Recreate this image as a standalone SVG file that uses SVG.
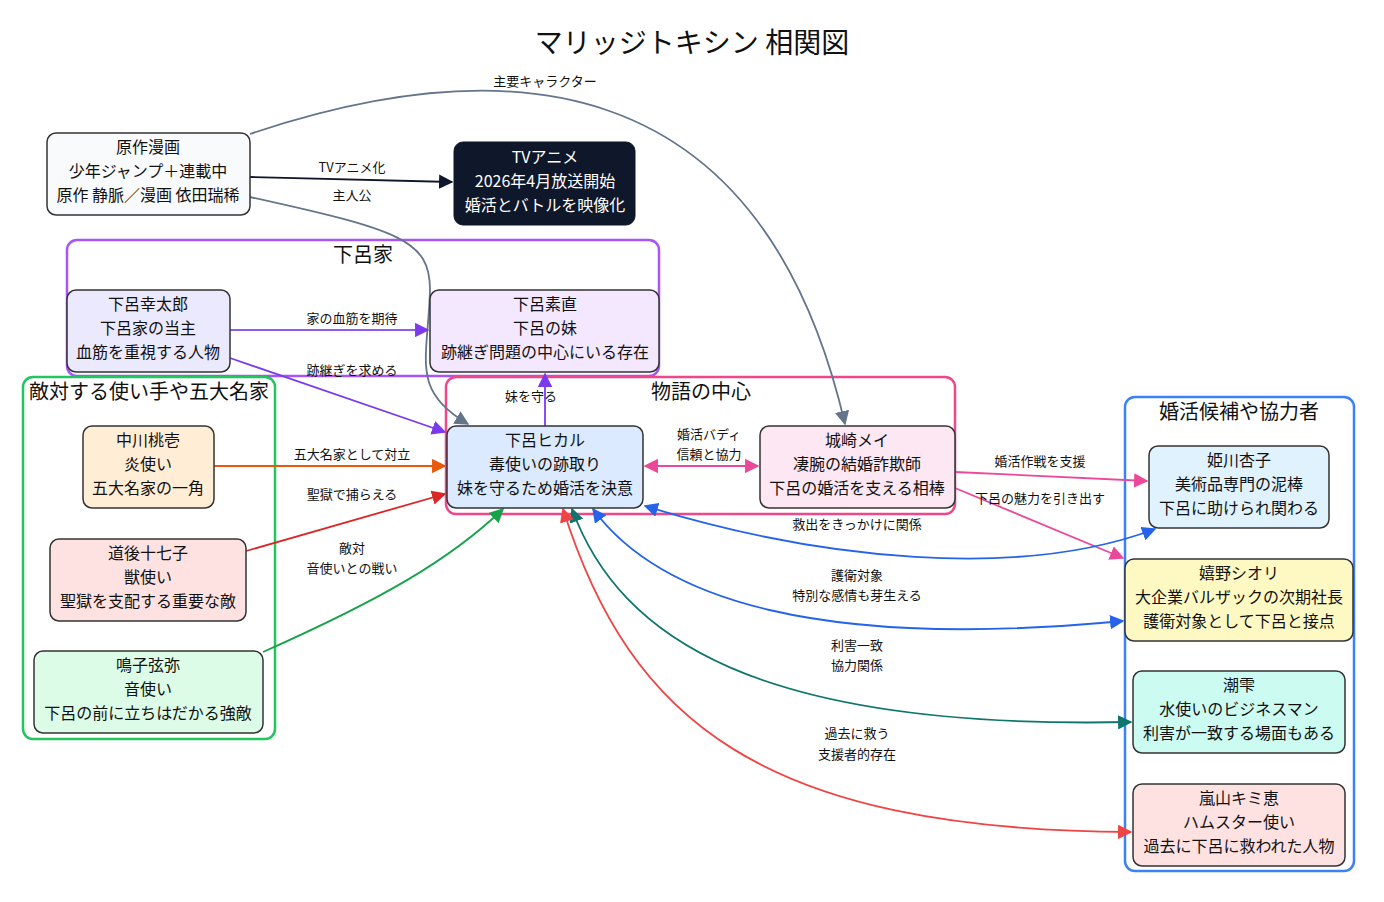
<svg xmlns="http://www.w3.org/2000/svg" width="1384" height="902" viewBox="0 0 1384 902">
<style>
text{font-family:"Noto Sans CJK JP","Noto Sans",sans-serif;fill:#111;text-anchor:middle}
.n{font-size:16px}
.e{font-size:13px}
.g{font-size:20px}
.t{font-size:28px}
.box{stroke:#333;stroke-width:1.5}
.grp{fill:none;stroke-width:2.5}
.c{fill:none;stroke-width:1.8}
</style>
<defs>
<marker id="aS" viewBox="0 0 10 10" refX="9" refY="5" markerWidth="8" markerHeight="8" orient="auto-start-reverse"><path d="M0,0L10,5L0,10z" fill="#64748b"/></marker>
<marker id="aK" viewBox="0 0 10 10" refX="9" refY="5" markerWidth="8" markerHeight="8" orient="auto-start-reverse"><path d="M0,0L10,5L0,10z" fill="#0f172a"/></marker>
<marker id="aP" viewBox="0 0 10 10" refX="9" refY="5" markerWidth="8" markerHeight="8" orient="auto-start-reverse"><path d="M0,0L10,5L0,10z" fill="#7c3aed"/></marker>
<marker id="aO" viewBox="0 0 10 10" refX="9" refY="5" markerWidth="8" markerHeight="8" orient="auto-start-reverse"><path d="M0,0L10,5L0,10z" fill="#ea580c"/></marker>
<marker id="aR" viewBox="0 0 10 10" refX="9" refY="5" markerWidth="8" markerHeight="8" orient="auto-start-reverse"><path d="M0,0L10,5L0,10z" fill="#dc2626"/></marker>
<marker id="aG" viewBox="0 0 10 10" refX="9" refY="5" markerWidth="8" markerHeight="8" orient="auto-start-reverse"><path d="M0,0L10,5L0,10z" fill="#16a34a"/></marker>
<marker id="aM" viewBox="0 0 10 10" refX="9" refY="5" markerWidth="8" markerHeight="8" orient="auto-start-reverse"><path d="M0,0L10,5L0,10z" fill="#ec4899"/></marker>
<marker id="aB" viewBox="0 0 10 10" refX="9" refY="5" markerWidth="8" markerHeight="8" orient="auto-start-reverse"><path d="M0,0L10,5L0,10z" fill="#2563eb"/></marker>
<marker id="aT" viewBox="0 0 10 10" refX="9" refY="5" markerWidth="8" markerHeight="8" orient="auto-start-reverse"><path d="M0,0L10,5L0,10z" fill="#0f766e"/></marker>
<marker id="aL" viewBox="0 0 10 10" refX="9" refY="5" markerWidth="8" markerHeight="8" orient="auto-start-reverse"><path d="M0,0L10,5L0,10z" fill="#ef4444"/></marker>
</defs>
<rect width="1384" height="902" fill="#fff"/>
<text class="t" x="692" y="53">マリッジトキシン 相関図</text>

<g id="groups">
<rect class="grp" x="67" y="240" width="592" height="136" rx="10" stroke="#a855f7"/>
<text class="g" x="363" y="262">下呂家</text>
<rect class="grp" x="23" y="377" width="252" height="362" rx="10" stroke="#22c55e"/>
<text class="g" x="149" y="399">敵対する使い手や五大名家</text>
<rect class="grp" x="446" y="377" width="509" height="137" rx="10" stroke="#f0468a"/>
<text class="g" x="701" y="399">物語の中心</text>
<rect class="grp" x="1125" y="397" width="229" height="474" rx="10" stroke="#3b82f6"/>
<text class="g" x="1239" y="419">婚活候補や協力者</text>
</g>

<g id="connectors">
<path class="c" stroke="#64748b" d="M250,134 C500,50 760,60 845,424" marker-end="url(#aS)"/>
<text class="e" x="545" y="86">主要キャラクター</text>
<path class="c" stroke="#0f172a" d="M250,177 L452,182" marker-end="url(#aK)"/>
<text class="e" x="352" y="172">TVアニメ化</text>
<path class="c" stroke="#64748b" d="M250,197 C400,230 430,240 430,290 C428,360 410,390 468,424" marker-end="url(#aS)"/>
<text class="e" x="352" y="200">主人公</text>
<path class="c" stroke="#8b5cf6" d="M230,330 L428,330" marker-end="url(#aP)"/>
<text class="e" x="352" y="323">家の血筋を期待</text>
<path class="c" stroke="#7c3aed" d="M230,358 L445,432" marker-end="url(#aP)"/>
<text class="e" x="352" y="375">跡継ぎを求める</text>
<path class="c" stroke="#7c3aed" d="M545,426 L545,374" marker-end="url(#aP)"/>
<text class="e" x="531" y="401">妹を守る</text>
<path class="c" stroke="#ea580c" d="M214,466 L445,466" marker-end="url(#aO)"/>
<text class="e" x="352" y="459">五大名家として対立</text>
<path class="c" stroke="#dc2626" d="M246,551 L445,494" marker-end="url(#aR)"/>
<text class="e" x="352" y="499">聖獄で捕らえる</text>
<path class="c" stroke="#16a34a" d="M263,652 C380,600 450,560 503,509" marker-end="url(#aG)"/>
<text class="e" x="352" y="553">敵対</text>
<text class="e" x="352" y="573">音使いとの戦い</text>
<path class="c" stroke="#ec4899" d="M645,466 L758,466" marker-start="url(#aM)" marker-end="url(#aM)"/>
<text class="e" x="709" y="439">婚活バディ</text>
<text class="e" x="709" y="459">信頼と協力</text>
<path class="c" stroke="#ec4899" d="M955,472 L1147,481" marker-end="url(#aM)"/>
<text class="e" x="1040" y="466">婚活作戦を支援</text>
<path class="c" stroke="#ec4899" d="M955,488 L1123,558" marker-end="url(#aM)"/>
<text class="e" x="1040" y="503">下呂の魅力を引き出す</text>
<path class="c" stroke="#2563eb" d="M1155,529 C1020,580 820,560 645,506" marker-start="url(#aB)" marker-end="url(#aB)"/>
<text class="e" x="857" y="529">救出をきっかけに関係</text>
<path class="c" stroke="#2563eb" d="M1123,621 C820,650 660,600 593,509" marker-start="url(#aB)" marker-end="url(#aB)"/>
<text class="e" x="857" y="580">護衛対象</text>
<text class="e" x="857" y="600">特別な感情も芽生える</text>
<path class="c" stroke="#0f766e" d="M1131,722 C760,730 620,640 572,509" marker-start="url(#aT)" marker-end="url(#aT)"/>
<text class="e" x="857" y="650">利害一致</text>
<text class="e" x="857" y="670">協力関係</text>
<path class="c" stroke="#ef4444" d="M1131,832 C760,830 630,720 563,509" marker-start="url(#aL)" marker-end="url(#aL)"/>
<text class="e" x="857" y="738">過去に救う</text>
<text class="e" x="857" y="759">支援者的存在</text>
</g>

<g id="n-gensaku"><rect class="box" x="47" y="133" width="203" height="82" rx="9" fill="#f8fafc"/>
<text class="n" x="148" y="153">原作漫画</text><text class="n" x="148" y="177">少年ジャンプ＋連載中</text><text class="n" x="148" y="201">原作 静脈／漫画 依田瑞稀</text></g>
<g id="n-anime"><rect x="454" y="142" width="181" height="83" rx="9" fill="#0f172a" stroke="#0f172a"/>
<text class="n" x="545" y="163" style="fill:#fff">TVアニメ</text><text class="n" x="545" y="187" style="fill:#fff">2026年4月放送開始</text><text class="n" x="545" y="211" style="fill:#fff">婚活とバトルを映像化</text></g>
<g id="n-kotaro"><rect class="box" x="67" y="290" width="163" height="82" rx="9" fill="#ebe9fe"/>
<text class="n" x="148" y="310">下呂幸太郎</text><text class="n" x="148" y="334">下呂家の当主</text><text class="n" x="148" y="358">血筋を重視する人物</text></g>
<g id="n-sunao"><rect class="box" x="430" y="290" width="229" height="82" rx="9" fill="#f3e8ff"/>
<text class="n" x="545" y="310">下呂素直</text><text class="n" x="545" y="334">下呂の妹</text><text class="n" x="545" y="358">跡継ぎ問題の中心にいる存在</text></g>
<g id="n-nakagawa"><rect class="box" x="83" y="426" width="131" height="82" rx="9" fill="#ffedd5"/>
<text class="n" x="148" y="446">中川桃壱</text><text class="n" x="148" y="470">炎使い</text><text class="n" x="148" y="494">五大名家の一角</text></g>
<g id="n-dogo"><rect class="box" x="50" y="539" width="196" height="82" rx="9" fill="#fee2e2"/>
<text class="n" x="148" y="559">道後十七子</text><text class="n" x="148" y="583">獣使い</text><text class="n" x="148" y="607">聖獄を支配する重要な敵</text></g>
<g id="n-naruko"><rect class="box" x="34" y="651" width="229" height="82" rx="9" fill="#dcfce7"/>
<text class="n" x="148" y="671">鳴子弦弥</text><text class="n" x="148" y="695">音使い</text><text class="n" x="148" y="719">下呂の前に立ちはだかる強敵</text></g>
<g id="n-hikaru"><rect class="box" x="447" y="426" width="196" height="82" rx="9" fill="#dbeafe"/>
<text class="n" x="545" y="446">下呂ヒカル</text><text class="n" x="545" y="470">毒使いの跡取り</text><text class="n" x="545" y="494">妹を守るため婚活を決意</text></g>
<g id="n-mei"><rect class="box" x="760" y="426" width="195" height="82" rx="9" fill="#fce7f3"/>
<text class="n" x="857" y="446">城崎メイ</text><text class="n" x="857" y="470">凄腕の結婚詐欺師</text><text class="n" x="857" y="494">下呂の婚活を支える相棒</text></g>
<g id="n-himekawa"><rect class="box" x="1149" y="446" width="180" height="82" rx="9" fill="#e0f2fe"/>
<text class="n" x="1239" y="466">姫川杏子</text><text class="n" x="1239" y="490">美術品専門の泥棒</text><text class="n" x="1239" y="514">下呂に助けられ関わる</text></g>
<g id="n-ureshino"><rect class="box" x="1125" y="559" width="228" height="82" rx="9" fill="#fef9c3"/>
<text class="n" x="1239" y="579">嬉野シオリ</text><text class="n" x="1239" y="603">大企業バルザックの次期社長</text><text class="n" x="1239" y="627">護衛対象として下呂と接点</text></g>
<g id="n-ushio"><rect class="box" x="1133" y="671" width="212" height="82" rx="9" fill="#ccfbf1"/>
<text class="n" x="1239" y="691">潮雫</text><text class="n" x="1239" y="715">水使いのビジネスマン</text><text class="n" x="1239" y="739">利害が一致する場面もある</text></g>
<g id="n-arashiyama"><rect class="box" x="1133" y="784" width="212" height="82" rx="9" fill="#fee2e2"/>
<text class="n" x="1239" y="804">嵐山キミ恵</text><text class="n" x="1239" y="828">ハムスター使い</text><text class="n" x="1239" y="852">過去に下呂に救われた人物</text></g>
</svg>
